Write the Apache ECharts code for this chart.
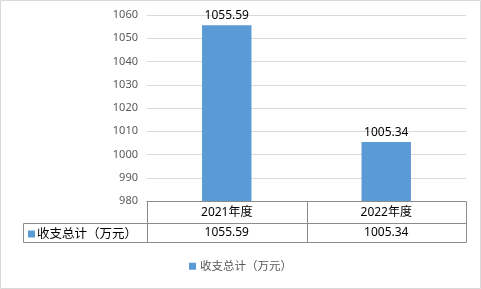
<!DOCTYPE html>
<html><head><meta charset="utf-8">
<script src="https://cdn.jsdelivr.net/npm/echarts@6/dist/echarts.min.js"></script>
<style>html,body{margin:0;padding:0;background:#fff}#c{width:481px;height:289px}</style>
</head><body><div id="c"></div>
<script>
const categories = ['2021年度', '2022年度'];
const values = [1055.59, 1005.34];
const seriesName = '收支总计（万元）';
const yTicks = {min: 980, max: 1060, interval: 10};

const FONT = "'Noto Sans','Noto Sans CJK SC',sans-serif";
const BLUE = '#5b9bd5';
const LINE = '#8c8c8c';
const chart = echarts.init(document.getElementById('c'), null, {renderer: 'canvas'});
chart.setOption({
  animation: false,
  textStyle: {fontFamily: FONT},
  grid: {left: 147, right: 15, top: 15, bottom: 88, containLabel: false},
  legend: {
    bottom: 12, left: 'center', icon: 'rect', itemWidth: 7, itemHeight: 7, itemGap: 4,
    textStyle: {color: '#595959', fontSize: 11.5, fontFamily: FONT, padding: [0, 0, 0, -1]},
    data: [seriesName]
  },
  xAxis: [{
    type: 'category', data: categories, position: 'bottom',
    axisLine: {show: true, lineStyle: {color: LINE, width: 1}},
    axisTick: {show: false},
    axisLabel: {color: '#000', fontSize: 12, margin: 6, fontFamily: FONT}
  }, {
    type: 'category', data: values.map(v => v.toFixed(2)), position: 'bottom', offset: 22,
    axisLine: {show: false}, axisTick: {show: false},
    axisLabel: {color: '#000', fontSize: 12, margin: 4, fontFamily: FONT}
  }],
  yAxis: {
    type: 'value', min: yTicks.min, max: yTicks.max, interval: yTicks.interval,
    axisLine: {show: false}, axisTick: {show: false},
    axisLabel: {color: '#595959', fontSize: 11, margin: 9, fontFamily: FONT, formatter: v => String(v)},
    splitLine: {lineStyle: {color: '#d9d9d9', width: 1}}
  },
  series: [{
    name: seriesName, type: 'bar', data: values, barWidth: '31%', xAxisIndex: 0,
    itemStyle: {color: BLUE},
    label: {show: true, position: 'top', color: '#000', fontSize: 12, distance: 4, fontFamily: FONT,
            formatter: p => p.value.toFixed(2)}
  }]
});

function drawTable() {
  const W = chart.getWidth(), H = chart.getHeight();
  const yTop = Math.round(chart.convertToPixel({yAxisIndex: 0}, yTicks.min)) + 0.5;
  const x0 = chart.convertToPixel({xAxisIndex: 0}, categories[0]);
  const x1 = chart.convertToPixel({xAxisIndex: 0}, categories[1]);
  const band = x1 - x0;
  const left = Math.round(x0 - band / 2) + 0.5;
  const mid = Math.round(x0 + band / 2) + 0.5;
  const right = Math.round(x1 + band / 2) + 0.5;
  const yMid = yTop + 22, yBot = yTop + 41;
  const outer = 23.5;
  const ls = {stroke: LINE, lineWidth: 1};
  const L = (a, b, c, d) => ({type: 'line', shape: {x1: a, y1: b, x2: c, y2: d}, style: ls, silent: true});
  chart.setOption({graphic: [
    {type: 'rect', shape: {x: 0.5, y: 0.5, width: W - 1, height: H - 1}, style: {fill: 'none', stroke: '#d9d9d9', lineWidth: 1}, silent: true},
    L(outer, yMid, right, yMid),
    L(outer, yBot, right, yBot),
    L(outer, yMid, outer, yBot),
    L(left, yTop, left, yBot),
    L(mid, yTop, mid, yBot),
    L(right, yTop, right, yBot),
    {type: 'rect', shape: {x: 28, y: yMid + 7, width: 7, height: 7}, style: {fill: BLUE}, silent: true},
    {type: 'text', style: {x: 37, y: yMid + 10, text: seriesName, fill: '#000', font: "12.5px 'Noto Sans CJK SC',sans-serif", textVerticalAlign: 'middle'}, silent: true}
  ]});
}
drawTable();
</script></body></html>
